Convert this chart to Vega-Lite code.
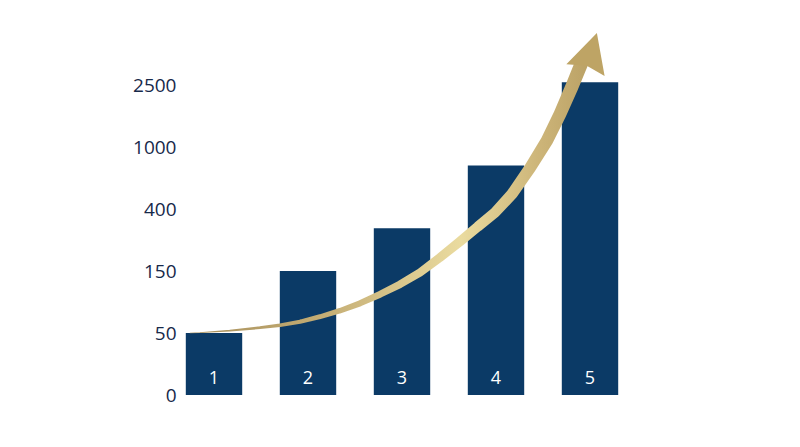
{
  "$schema": "https://vega.github.io/schema/vega-lite/v6.json",
  "width": 470,
  "height": 372,
  "autosize": "none",
  "padding": {"left": 167, "top": 23, "right": 163, "bottom": 52},
  "background": "white",
  "config": {"view": {"stroke": null}, "font": "Open Sans"},
  "layer": [
    {
      "data": {
        "values": [
          {"bar": "1", "value": 50},
          {"bar": "2", "value": 150},
          {"bar": "3", "value": 322},
          {"bar": "4", "value": 820},
          {"bar": "5", "value": 2565}
        ]
      },
      "encoding": {
        "x": {
          "field": "bar",
          "type": "nominal",
          "scale": {"paddingInner": 0.4, "paddingOuter": 0.2},
          "axis": null
        }
      },
      "layer": [
        {
          "mark": {"type": "bar", "color": "#0b3a66"},
          "encoding": {
            "y": {
              "field": "value",
              "type": "quantitative",
              "scale": {
                "domain": [0, 50, 150, 400, 1000, 2500],
                "range": [372, 310, 248, 186, 124, 62],
                "nice": false,
                "zero": false
              },
              "axis": {
                "values": [0, 50, 150, 400, 1000, 2500],
                "format": "d",
                "title": null,
                "grid": false,
                "domain": false,
                "ticks": false,
                "offset": -19,
                "labelPadding": 10,
                "labelFontSize": 19,
                "labelColor": "#17294a",
                "labelFont": "Open Sans"
              }
            }
          }
        },
        {
          "mark": {"type": "text", "color": "white", "fontSize": 18, "dy": -16, "font": "Open Sans"},
          "encoding": {
            "y": {"datum": 0, "type": "quantitative"},
            "text": {"field": "bar"}
          }
        }
      ]
    },
    {
      "data": {
        "values": [
          {"idx": 0.7447, "level": 1.0},
          {"idx": 0.8511, "level": 1.0048},
          {"idx": 1.1702, "level": 1.0371},
          {"idx": 1.4894, "level": 1.0855},
          {"idx": 1.7021, "level": 1.1242},
          {"idx": 1.9149, "level": 1.1823},
          {"idx": 2.1277, "level": 1.2629},
          {"idx": 2.3404, "level": 1.3597},
          {"idx": 2.5532, "level": 1.479},
          {"idx": 2.766, "level": 1.6242},
          {"idx": 2.9787, "level": 1.7855},
          {"idx": 3.1915, "level": 1.9758},
          {"idx": 3.4043, "level": 2.2177},
          {"idx": 3.617, "level": 2.4758},
          {"idx": 3.8085, "level": 2.7177},
          {"idx": 3.9894, "level": 2.9435},
          {"idx": 4.1702, "level": 3.2419},
          {"idx": 4.3617, "level": 3.6613},
          {"idx": 4.5426, "level": 4.1048},
          {"idx": 4.6809, "level": 4.5323},
          {"idx": 4.8085, "level": 4.9758},
          {"idx": 4.9149, "level": 5.371}
        ]
      },
      "mark": {
        "type": "trail",
        "color": {
          "gradient": "linear",
          "x1": 0, "y1": 0, "x2": 1, "y2": 0,
          "stops": [
            {"offset": 0, "color": "#a68e5a"},
            {"offset": 0.35, "color": "#c6af76"},
            {"offset": 0.68, "color": "#eadb9f"},
            {"offset": 0.88, "color": "#ccb478"},
            {"offset": 1, "color": "#bba266"}
          ]
        }
      },
      "encoding": {
        "x": {"field": "idx", "type": "quantitative", "scale": {"domain": [0.5, 5.5]}, "axis": null},
        "y": {"field": "level", "type": "quantitative", "scale": {"domain": [0, 6]}, "axis": null},
        "size": {
          "field": "idx",
          "type": "quantitative",
          "scale": {"domain": [0.745, 4.91], "range": [0.5, 13.5], "zero": false},
          "legend": null
        }
      }
    },
    {
      "data": {"values": [{"idx": 5.011, "level": 5.532}]},
      "mark": {
        "type": "point",
        "filled": true,
        "opacity": 1,
        "color": "#bea465",
        "shape": "M0,-1 L1,0.95 L0,0.72 L-1,0.95 Z",
        "size": 1600,
        "angle": 17
      },
      "encoding": {
        "x": {"field": "idx", "type": "quantitative", "scale": {"domain": [0.5, 5.5]}, "axis": null},
        "y": {"field": "level", "type": "quantitative", "scale": {"domain": [0, 6]}, "axis": null}
      }
    }
  ],
  "resolve": {"scale": {"x": "independent", "y": "independent", "size": "independent"}}
}
